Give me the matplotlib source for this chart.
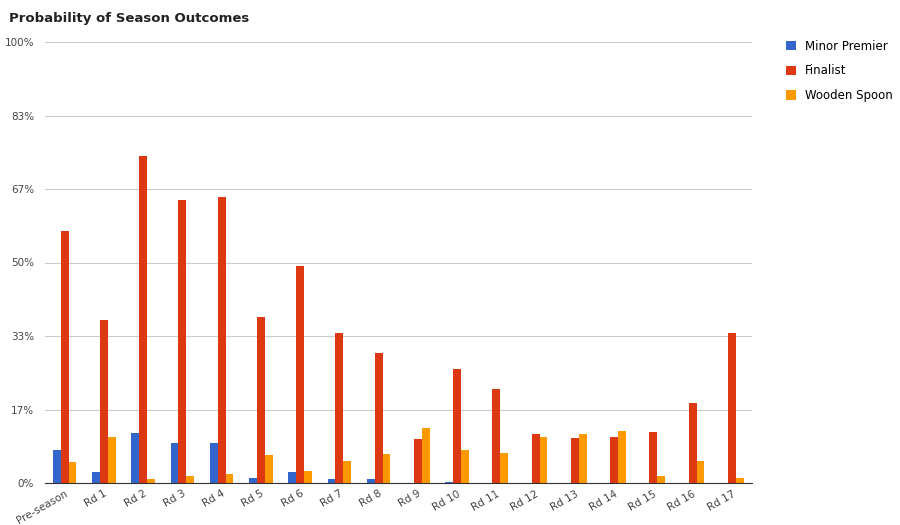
import matplotlib
matplotlib.use("Agg")
import matplotlib.pyplot as plt
import numpy as np

rounds = ["Pre-season"] + [f"Rd {i}" for i in range(1, 18)]
minor_premier = [7.5, 2.5, 11.3, 9.1, 9.1, 1.1, 2.5, 0.9, 0.9, 0, 0.2, 0, 0, 0, 0, 0, 0, 0]
finalist = [57.1, 37.0, 74.1, 64.2, 64.9, 37.6, 49.2, 34.0, 29.5, 10.0, 25.9, 21.3, 11.1, 10.2, 10.4, 11.6, 18.1, 34.0]
wooden_spoon = [4.8, 10.4, 0.9, 1.6, 2.0, 6.3, 2.7, 5.0, 6.6, 12.5, 7.5, 6.8, 10.4, 11.1, 11.8, 1.6, 5.0, 1.1]
ticks = [0, 100/6, 200/6, 50, 400/6, 500/6, 100]
tick_labels = ["0%", "17%", "33%", "50%", "67%", "83%", "100%"]

fig = plt.figure(figsize=(9, 5.25), dpi=100)
ax = fig.add_axes([0.05, 0.08, 0.785, 0.84])
x = np.arange(len(rounds))
w = 0.2
ax.bar(x - w, minor_premier, w, color="#3366cc", label="Minor Premier")
ax.bar(x, finalist, w, color="#dc3912", label="Finalist")
ax.bar(x + w, wooden_spoon, w, color="#ff9900", label="Wooden Spoon")
ax.set_ylim(0, 100)
ax.set_xlim(-0.5, len(rounds) - 0.5)
ax.set_yticks(ticks)
ax.set_yticklabels(tick_labels, fontsize=7.5, color="#444444")
ax.set_xticks(x)
ax.set_xticklabels(rounds, rotation=30, ha="right", fontsize=7.5, color="#444444", rotation_mode="anchor")
ax.grid(axis="y", color="#cccccc", linewidth=0.8)
ax.set_axisbelow(True)
for s in ["top", "right", "left"]:
    ax.spines[s].set_visible(False)
ax.spines["bottom"].set_color("#333333")
ax.tick_params(length=0)
ax.tick_params(axis="y", pad=8)
ax.tick_params(axis="x", pad=4)
fig.text(0.01, 0.978, "Probability of Season Outcomes", fontsize=9.5, fontweight="bold", va="top", color="#222222")
fig.legend(loc="upper left", bbox_to_anchor=(0.862, 0.945), frameon=False, fontsize=8.5,
           handlelength=0.8, handleheight=0.8, labelspacing=1.0)
fig.savefig("out.png")
